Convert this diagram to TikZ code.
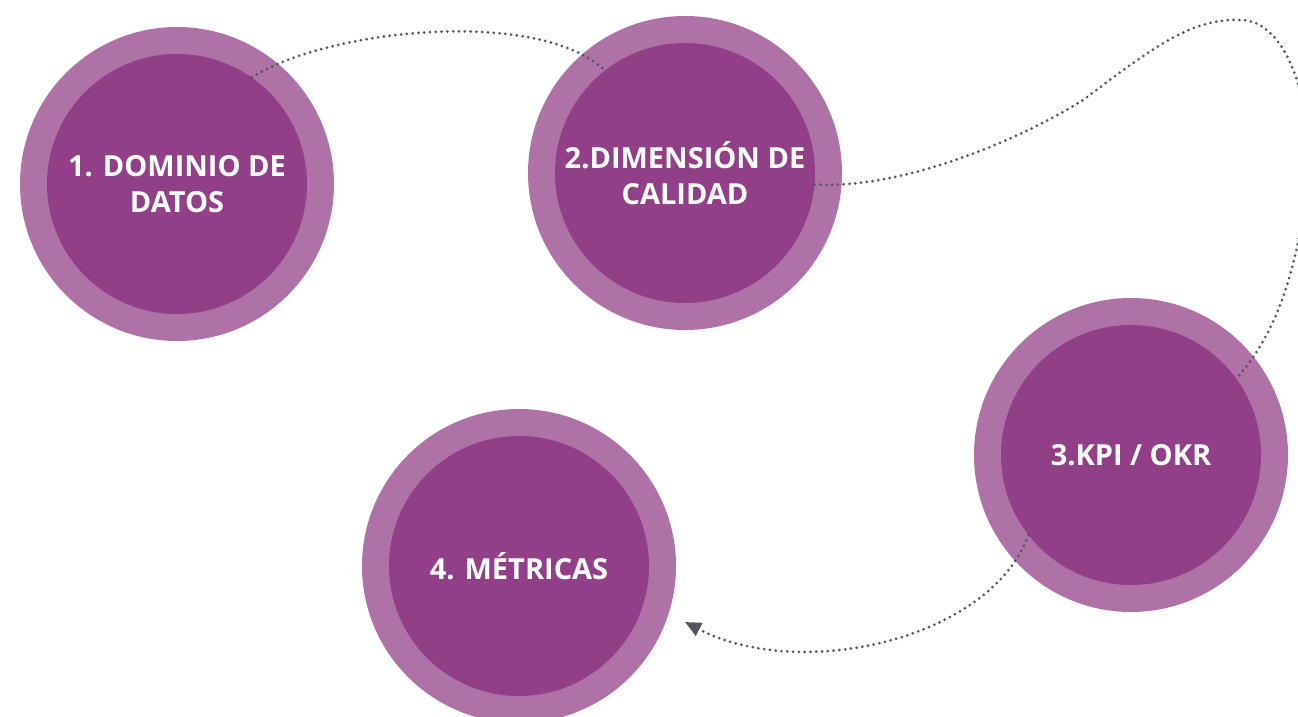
\documentclass[tikz,border=0pt]{standalone}
\usepackage{fontspec}
\setsansfont{Open Sans}
\usepackage{tikz}
\usetikzlibrary{arrows.meta,positioning,calc}
\definecolor{ringPurple}{HTML}{AE72A6}
\definecolor{corePurple}{HTML}{913F87}
\definecolor{dotGray}{HTML}{50565A}
\begin{document}
\begin{tikzpicture}[x=1pt,y=-1pt,
  ring/.style={circle,fill=ringPurple,minimum size=314pt,inner sep=0pt},
  core/.style={circle,fill=corePurple,minimum size=260pt,inner sep=0pt,text=white,align=center,
    font=\sffamily\bfseries\fontsize{29}{36}\selectfont},
  link/.style={dotGray,line width=3pt,line cap=round,dash pattern=on 0pt off 5.8pt},
  tip/.style={-{Triangle[length=16pt,width=14pt]}}]
  \clip (0,0) rectangle (1298,717);
  \foreach \i/\x/\y in {1/177/184,2/685/173,3/1131/455,4/519/566}{\node[ring] (r\i) at (\x,\y) {};}
  \node[core] (n1) at (r1) {1. DOMINIO DE\\DATOS};
  \node[core] (n2) at (r2) {2.DIMENSIÓN DE\\CALIDAD};
  \node[core] (n3) at (r3) {3.KPI / OKR};
  \node[core] (n4) at (r4) {4. MÉTRICAS};
  \coordinate (a4) at (685,622);
  \draw[link] (n1.55) .. controls (330,28) and (540,8) .. (n2.128);
  \draw[link] (n2.-5) .. controls (900,190) and (1020,140) .. (1083,100)
    .. controls (1150,50) and (1190,18) .. (1240,20)
    .. controls (1290,20) and (1312,110) .. (1308,170)
    .. controls (1300,260) and (1280,330) .. (n3.36);
  \draw[link,tip] (n3.218) .. controls (990,640) and (800,682) .. (a4);
\end{tikzpicture}
\end{document}
